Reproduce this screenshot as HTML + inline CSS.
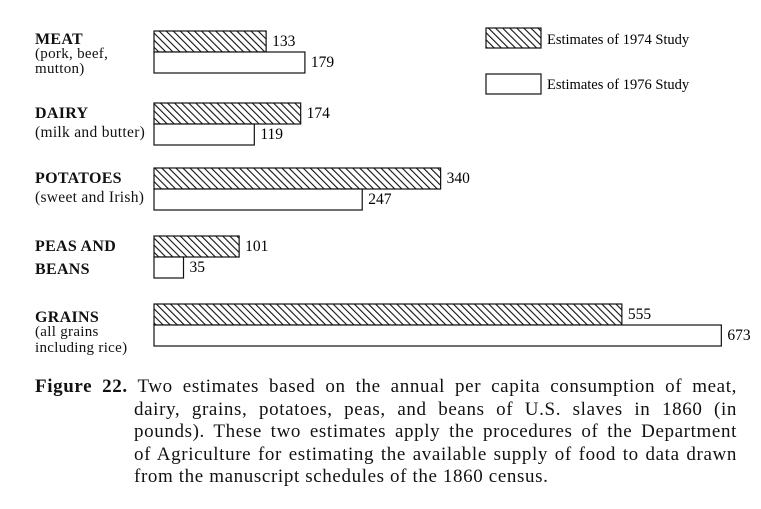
<!DOCTYPE html>
<html><head><meta charset="utf-8"><style>
body{margin:0;background:#fff;width:761px;height:509px;overflow:hidden;font-family:"Liberation Serif",serif;color:#111}
.cap{position:absolute;left:35px;top:376px;font-size:19px;letter-spacing:0.62px;line-height:22.5px;width:702px}
.cap div{white-space:nowrap;text-align:justify;text-align-last:justify}
.cap div.last{text-align-last:left}
</style></head><body>
<svg width="761" height="372" style="position:absolute;left:0;top:0">
<defs><pattern id="h" patternUnits="userSpaceOnUse" width="5" height="5" patternTransform="rotate(-45)"><rect width="5" height="5" fill="#fff"/><line x1="0" y1="0" x2="0" y2="5" stroke="#111" stroke-width="2.2"/></pattern></defs>
<g id="bars"></g>
<g font-size="16" font-family="Liberation Serif, serif" fill="#111" letter-spacing="0.3">
<text x="35" y="44" font-weight="bold">MEAT</text>
<text x="35" y="58" font-size="15">(pork, beef,</text>
<text x="35" y="73" font-size="15">mutton)</text>
<text x="35" y="118" font-weight="bold">DAIRY</text>
<text x="35" y="137" font-size="15.5">(milk and butter)</text>
<text x="35" y="183" font-weight="bold">POTATOES</text>
<text x="35" y="202" font-size="15.5">(sweet and Irish)</text>
<text x="35" y="251" font-weight="bold">PEAS AND</text>
<text x="35" y="274" font-weight="bold">BEANS</text>
<text x="35" y="322" font-weight="bold">GRAINS</text>
<text x="35" y="336" font-size="15">(all grains</text>
<text x="35" y="352" font-size="15">including rice)</text>
</g>
<g font-size="14.5" font-family="Liberation Serif, serif">
<rect x="486" y="28" width="55" height="20" fill="url(#h)" stroke="#111" stroke-width="1.2"/>
<text x="547" y="44">Estimates of 1974 Study</text>
<rect x="486" y="74" width="55" height="20" fill="#fff" stroke="#111" stroke-width="1.2"/>
<text x="547" y="89">Estimates of 1976 Study</text>
</g>
</svg>
<div class="cap">
<div><b>Figure 22.</b> Two estimates based on the annual per capita consumption of meat,</div>
<div style="padding-left:99px">dairy, grains, potatoes, peas, and beans of U.S. slaves in 1860 (in</div>
<div style="padding-left:99px">pounds). These two estimates apply the procedures of the Department</div>
<div style="padding-left:99px">of Agriculture for estimating the available supply of food to data drawn</div>
<div class="last" style="padding-left:99px">from the manuscript schedules of the 1860 census.</div>
</div>
<script>
const categories=["meat","dairy","potatoes","peas","grains"];
const est1974=[133,174,340,101,555];
const est1976=[179,119,247,35,673];
const rowTop=[31,103,168,236,304];
const x0=154, k=0.843, bh=21;
const sx=v=>v*k;
const g=document.getElementById('bars');
const NS='http://www.w3.org/2000/svg';
categories.forEach((c,i)=>{
 [[est1974[i],'url(#h)',0],[est1976[i],'#fff',1]].forEach(([v,f,j])=>{
  const r=document.createElementNS(NS,'rect');
  r.setAttribute('x',x0);r.setAttribute('y',rowTop[i]+j*bh);
  r.setAttribute('width',sx(v));r.setAttribute('height',bh);
  r.setAttribute('fill',f);r.setAttribute('stroke','#111');r.setAttribute('stroke-width','1.2');
  
  
  g.appendChild(r);
  const t=document.createElementNS(NS,'text');
  t.setAttribute('x',x0+sx(v)+6);t.setAttribute('y',rowTop[i]+j*bh+15);
  t.setAttribute('font-size','15.5');t.setAttribute('font-family','Liberation Serif, serif');
  t.textContent=v;
  
  
  g.appendChild(t);
 });
});
</script>
</body></html>
